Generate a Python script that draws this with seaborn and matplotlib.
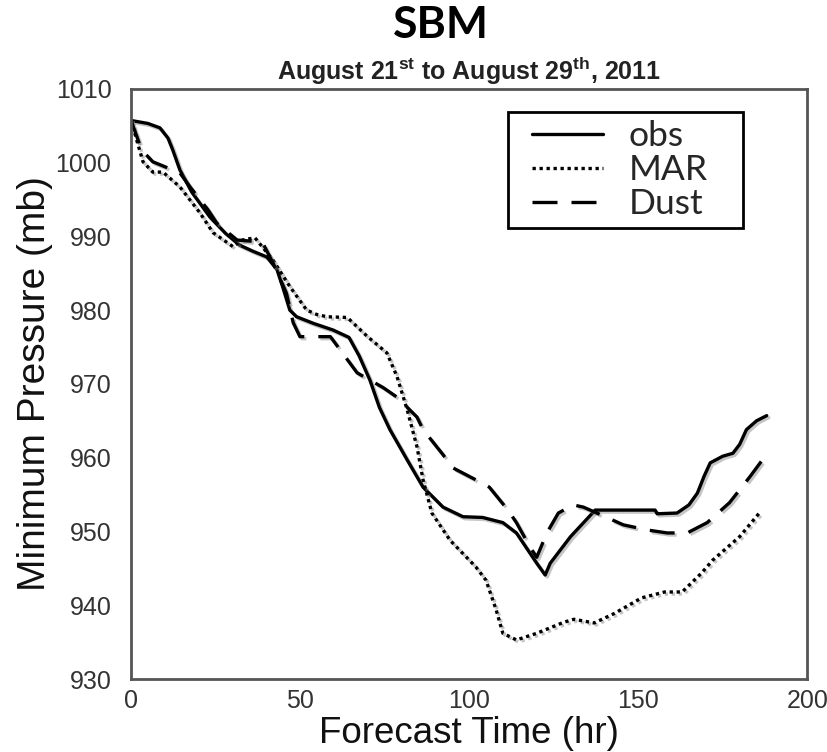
import matplotlib
matplotlib.use("Agg")
import matplotlib.pyplot as plt
import matplotlib.patheffects as pe
from matplotlib.lines import Line2D
from matplotlib.patches import Rectangle
import seaborn as sns
import pandas as pd

# ---- data ----
obs_t = [0, 5, 8.6, 11, 12.4, 14.5, 18, 23.4, 28, 32.2, 36, 40.2, 43.2, 45, 47, 49, 54, 59.8, 64.5,
         67.5, 70.7, 73.5, 76.6, 81.7, 86.4, 92.3, 98.2, 104, 110, 114, 120, 122.5, 124, 130, 137.3,
         155, 155.6, 161.5, 165, 167.5, 169.5, 171.3, 175, 178, 180, 182, 185, 188]
obs_p = [1005.7, 1005.3, 1004.7, 1003.3, 1001.7, 999.0, 996.0, 992.6, 990.4, 988.8, 988.0,
         987.2, 985.5, 983.0, 980.0, 979.1, 978.2, 977.3, 976.3, 973.8, 970.5, 966.8, 963.8,
         959.7, 956.0, 953.3, 952.0, 951.9, 951.2, 949.8, 945.7, 944.1, 945.7, 949.3, 952.9,
         952.9, 952.4, 952.5, 953.6, 955.2, 957.5, 959.3, 960.2, 960.6, 961.8, 963.8, 965.0, 965.7]

mar_t = [0, 3.6, 6.5, 9.5, 14.5, 20.4, 24.3, 30.2, 33, 36.7, 42, 47, 52, 55, 58, 64, 70,
         75.7, 78.7, 81.7, 84.6, 86.4, 89, 94.4, 102, 105, 108, 110, 114, 120, 128, 131,
         137, 143, 151, 157.8, 163, 168.8, 172, 180, 186]
mar_p = [1005.8, 1000.1, 998.7, 998.7, 996.7, 993.2, 990.5, 988.6, 989.5, 989.8, 986.8,
         983.2, 980.0, 979.4, 979.1, 979.0, 976.4, 974.2, 971.0, 966.5, 961.5, 957.0, 952.5,
         948.8, 945.2, 943.4, 939.4, 936.2, 935.3, 936.2, 937.7, 938.1, 937.6, 938.9, 941.0,
         941.8, 941.8, 944.4, 946.1, 949.3, 952.6]

dust_t = [0, 3.2, 6.5, 14.5, 17.5, 22.8, 25.4, 31.4, 36.7, 39, 42, 46, 48, 50, 54, 59,
          64, 66.9, 74.6, 78.7, 84.6, 86.4, 92.3, 95.3, 102, 106, 111.5, 114, 118, 120,
          123, 126.4, 130.8, 133.8, 137.3, 145.6, 152.7, 158.6, 164.5, 170.4, 177, 183, 188.5]
dust_p = [1005.8, 1001.7, 1000.1, 998.6, 996.7, 993.6, 991.8, 989.5, 989.3, 989.1, 986.4,
          982.3, 978.3, 976.4, 976.4, 976.4, 973.3, 971.5, 969.5, 968.2, 965.5, 963.8, 960.4,
          958.6, 957.0, 956.0, 952.9, 951.2, 947.9, 946.5, 949.8, 952.5, 953.6, 953.3, 952.6,
          950.9, 950.2, 949.8, 949.8, 951.2, 953.9, 957.4, 960.8]

series_names = ["obs", "MAR", "Dust"]
x_ticks = [0, 50, 100, 150, 200]
y_ticks = [930, 940, 950, 960, 970, 980, 990, 1000, 1010]

# ---- style ----
sns.set_style("white")
plt.rcParams["font.family"] = ["Liberation Sans", "DejaVu Sans"]
plt.rcParams["mathtext.fontset"] = "custom"
plt.rcParams["mathtext.rm"] = "Liberation Sans:bold"
plt.rcParams["mathtext.it"] = "Liberation Sans:bold"
plt.rcParams["mathtext.bf"] = "Liberation Sans:bold"

fig = plt.figure(figsize=(8.28, 7.52), dpi=100)
ax = fig.add_axes([0.158, 0.097, 0.817, 0.785])

shadow = [pe.SimpleLineShadow(offset=(1.5, -1.5), shadow_color="gray", alpha=0.45), pe.Normal()]
LW = 2.4
styles = {
    "obs": dict(linestyle="-"),
    "MAR": dict(linestyle=(0, (1.0, 1.1)), dash_capstyle="butt"),
    "Dust": dict(linestyle=(0, (7.5, 4.2)), dash_capstyle="butt"),
}
data = {"obs": (obs_t, obs_p), "MAR": (mar_t, mar_p), "Dust": (dust_t, dust_p)}

for name in series_names:
    t, p = data[name]
    df = pd.DataFrame({"t": t, "p": p})
    sns.lineplot(data=df, x="t", y="p", ax=ax, color="black", lw=LW, sort=False,
                 estimator=None, path_effects=shadow, **styles[name])

ax.set_xlim(0, 200)
ax.set_ylim(930, 1010)
ax.set_xticks(x_ticks)
ax.set_yticks(y_ticks)
ax.tick_params(axis="both", length=0, labelsize=18, labelcolor="#333333")
ax.tick_params(axis="y", pad=14)
ax.tick_params(axis="x", pad=7)
for s in ax.spines.values():
    s.set_color("#555555")
    s.set_linewidth(2)
    s.set_visible(True)

ax.set_xlabel("Forecast Time (hr)", fontsize=26.5, color="#111111", labelpad=2)
ax.set_ylabel("Minimum Pressure (mb)", fontsize=28, color="#111111", labelpad=2)

ax.set_title(r"August 21$^{\mathrm{st}}$ to August 29$^{\mathrm{th}}$, 2011",
             fontsize=18, fontweight="bold", color="#222222", pad=6)
fig.text(0.533, 0.967, "SBM", fontsize=32, fontweight="bold", family="Lato",
         ha="center", va="center", color="black")

# legend box drawn as a plain rectangle, legend entries inside it
ax.add_patch(Rectangle((0.558, 0.764), 0.347, 0.197, transform=ax.transAxes,
                       facecolor="white", edgecolor="black", lw=2, zorder=4))
handles = [Line2D([], [], color="black", lw=LW, **styles[n]) for n in series_names]
leg = ax.legend(handles, series_names, loc="upper left", bbox_to_anchor=(0.593, 0.947),
                borderaxespad=0, borderpad=0, frameon=False,
                handlelength=2.0, handletextpad=0.72, labelspacing=0.06,
                prop={"family": "Lato", "size": 25.5})
leg.set_zorder(5)

fig.savefig("out.png", dpi=100)
